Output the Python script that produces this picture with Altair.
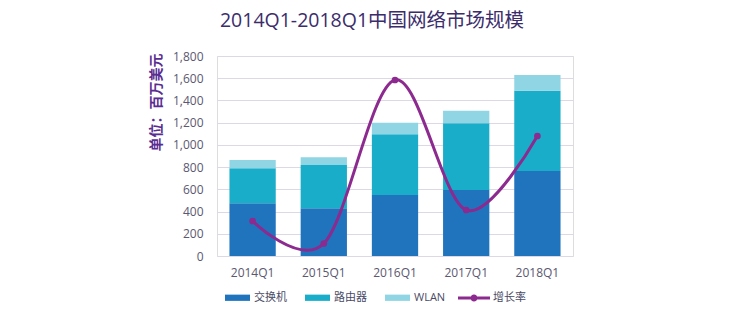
import altair as alt
import pandas as pd

quarters = ["2014Q1", "2015Q1", "2016Q1", "2017Q1", "2018Q1"]
switch_vals = [474, 429, 549, 594, 765]
router_vals = [315, 390, 546, 600, 723]
wlan_vals = [75, 69, 105, 114, 141]
growth = [0.070, 0.025, 0.352, 0.092, 0.240]

series_names = ["交换机", "路由器", "WLAN"]
series_colors = ["#1f74bd", "#19adc9", "#8fd5e3"]
line_color = "#8c2a8f"

rows = []
for k, (name, vals) in enumerate(zip(series_names, [switch_vals, router_vals, wlan_vals])):
    for q, v in zip(quarters, vals):
        rows.append({"q": q, "type": name, "value": v, "k": k})
bars_df = pd.DataFrame(rows)
line_df = pd.DataFrame({"q": quarters, "rate": growth, "s": ["增长率"] * len(quarters)})

FONT = "Open Sans, Noto Sans CJK SC, sans-serif"
label_color = "#5b5870"

x_enc = alt.X(
    "q:N",
    sort=quarters,
    scale=alt.Scale(paddingInner=0.35, paddingOuter=0.175),
    axis=alt.Axis(title=None, labelAngle=0, domain=False, ticks=False,
                  labelPadding=11, labelFontSize=12, labelColor=label_color, labelFont=FONT),
)

bar_path = "M-1,-0.25H1V0.25H-1Z"
line_path = "M-1,-0.09H1V0.09H-1Z M0.22,0A0.22,0.22,0,1,1,-0.22,0A0.22,0.22,0,1,1,0.22,0Z"

bars = alt.Chart(bars_df).mark_bar().encode(
    x=x_enc,
    y=alt.Y(
        "value:Q",
        stack="zero",
        scale=alt.Scale(domain=[0, 1800]),
        axis=alt.Axis(
            values=list(range(0, 1801, 200)), format=",d", grid=True, gridColor="#dcd8e4",
            domain=False, ticks=False, labelPadding=14, labelFontSize=12,
            labelColor=label_color, labelFont=FONT,
            title="单位：百万美元", titleFont="Noto Sans CJK SC", titleFontSize=14,
            titleFontWeight="bold", titleColor="#5a2d91", titleAngle=270,
            titleX=-54, titleY=46, titleAlign="center", titleBaseline="bottom",
        ),
    ),
    color=alt.Color(
        "type:N",
        scale=alt.Scale(domain=series_names, range=series_colors),
        legend=alt.Legend(
            orient="none", legendX=8, legendY=229, direction="horizontal", title=None,
            symbolType=bar_path, symbolSize=625, symbolStrokeWidth=0, symbolOpacity=1,
            labelFontSize=11, labelFont=FONT, labelColor="#4a4a66", labelOffset=4,
            columnPadding=18,
        ),
    ),
    order=alt.Order("k:Q", sort="ascending"),
)

rate_y = alt.Y(
    "rate:Q",
    scale=alt.Scale(domain=[0, 0.4]),
    axis=alt.Axis(
        orient="right", values=[i * 0.05 for i in range(9)], format=".0%", grid=False,
        domain=False, ticks=False, labelPadding=14, labelFontSize=12,
        labelColor=label_color, labelFont=FONT, title=None,
    ),
)

line = alt.Chart(line_df).mark_line(interpolate="cardinal", strokeWidth=3).encode(
    x=x_enc,
    y=rate_y,
    stroke=alt.Stroke(
        "s:N",
        scale=alt.Scale(domain=["增长率"], range=[line_color]),
        legend=alt.Legend(
            orient="none", legendX=241, legendY=226, direction="horizontal", title=None,
            symbolType=line_path, symbolSize=1024, symbolFillColor=line_color,
            symbolStrokeWidth=0, labelFontSize=11, labelFont=FONT, labelColor="#4a4a66",
            labelOffset=3,
        ),
    ),
)

points = alt.Chart(line_df).mark_point(filled=True, size=45, color=line_color, opacity=1).encode(
    x=x_enc,
    y=alt.Y("rate:Q", scale=alt.Scale(domain=[0, 0.4]), axis=None),
)

rate_layer = alt.layer(line, points)

chart = alt.layer(bars, rate_layer).resolve_scale(y="independent").properties(
    width=356,
    height=200,
    autosize=alt.AutoSizeParams(type="none"),
    padding={"left": 217, "top": 56, "right": 167, "bottom": 72},
    title=alt.TitleParams(
        "2014Q1-2018Q1中国网络市场规模", fontSize=19.5, font=FONT, fontWeight="normal",
        color="#3b2d6b", anchor="middle", dx=-23, offset=19,
    ),
).configure_view(stroke=None).configure(background="white")

chart.save("out.html", embed_options={"renderer": "svg", "actions": False})
